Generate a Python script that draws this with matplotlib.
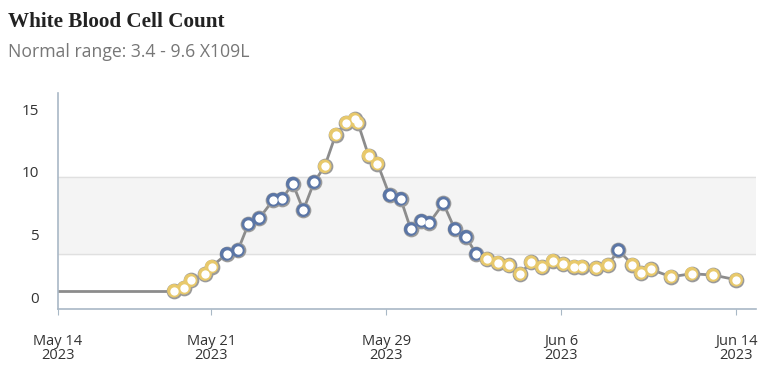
import matplotlib
matplotlib.use("Agg")
import matplotlib.pyplot as plt
import matplotlib.dates as mdates
import numpy as np
import pandas as pd

start = pd.Timestamp("2023-05-14")

# days after May 14 2023 and the measured counts
day_offsets = [5.30, 5.76, 6.06, 6.72, 7.02, 7.71, 8.22, 8.70, 9.19, 9.84,
               10.24, 10.73, 11.21, 11.70, 12.19, 12.69, 13.17, 13.55, 13.70, 14.19,
               14.60, 15.15, 15.66, 16.12, 16.61, 16.97, 17.61, 18.13, 18.64, 19.11,
               19.60, 20.10, 20.60, 21.12, 21.61, 22.11, 22.61, 23.09, 23.59, 23.94,
               24.59, 25.13, 25.61, 26.25, 26.64, 27.09, 28.01, 28.95, 29.93, 30.99]
wbc = [0.50, 0.74, 1.33, 1.84, 2.43, 3.45, 3.73, 5.83, 6.28, 7.77,
       7.85, 9.07, 6.94, 9.18, 10.45, 12.98, 13.94, 14.21, 13.94, 11.31,
       10.67, 8.14, 7.85, 5.43, 6.09, 5.93, 7.48, 5.43, 4.81, 3.45,
       3.03, 2.74, 2.53, 1.84, 2.79, 2.39, 2.90, 2.63, 2.42, 2.42,
       2.31, 2.55, 3.75, 2.58, 1.92, 2.21, 1.62, 1.86, 1.76, 1.38]

normal_low, normal_high = 3.4, 9.6
tick_dates = ["2023-05-14", "2023-05-21", "2023-05-29", "2023-06-06", "2023-06-14"]
y_ticks = [0, 5, 10, 15]

dates = start + pd.to_timedelta(day_offsets, unit="D")
vals = np.array(wbc)

fig = plt.figure(figsize=(7.68, 3.71), dpi=100)
ax = fig.add_axes([0.0755, 0.167, 0.909, 0.582])

# normal range band
ax.axhspan(normal_low, normal_high, color="#f4f4f4", zorder=0)
ax.axhline(normal_low, color="#e0e0e0", lw=1, zorder=0.5)
ax.axhline(normal_high, color="#e0e0e0", lw=1, zorder=0.5)

# line, with the first value held back to the start of the window
ax.plot([start, dates[0]], [vals[0], vals[0]], color="#8c8c8c", lw=2, zorder=1)
ax.plot(dates, vals, color="#8c8c8c", lw=2, zorder=1)

in_range = (vals >= normal_low) & (vals <= normal_high)
colors = np.where(in_range, "#5b76a6", "#e8c96c")
ax.scatter(dates, vals, s=128, color="#9a9a9a", zorder=2, linewidths=0)
ax.scatter(dates, vals, s=95, c=colors, zorder=3, linewidths=0)
ax.scatter(dates, vals, s=36, color="white", zorder=4, linewidths=0)

ax.set_xlim(start, start + pd.Timedelta(days=31.9))
ax.set_ylim(-0.96, 16.3)
ax.set_yticks(y_ticks)
ax.set_xticks(pd.to_datetime(tick_dates))
ax.xaxis.set_major_formatter(mdates.DateFormatter("%b %-d\n%Y"))

for s in ["top", "right"]:
    ax.spines[s].set_visible(False)
for s in ["left", "bottom"]:
    ax.spines[s].set_color("#a9b8c6")
    ax.spines[s].set_linewidth(1.2)

ax.tick_params(axis="y", length=0, pad=14, labelsize=11, labelcolor="#333333")
ax.tick_params(axis="x", length=4, color="#a9b8c6", pad=14, labelsize=10.5, labelcolor="#333333")
for lab in ax.get_xticklabels():
    lab.set_linespacing(0.95)
    lab.set_family("Open Sans")
for lab in ax.get_yticklabels():
    lab.set_family("Open Sans")

fig.text(0.0105, 0.94, "White Blood Cell Count", fontsize=15.2, fontweight="bold",
         family="Liberation Serif", color="#222222", va="center")
fig.text(0.0105, 0.86, "Normal range: 3.4 - 9.6 X109L", fontsize=12.7,
         family="Open Sans", color="#777777", va="center")

fig.savefig("out.png", dpi=100)
